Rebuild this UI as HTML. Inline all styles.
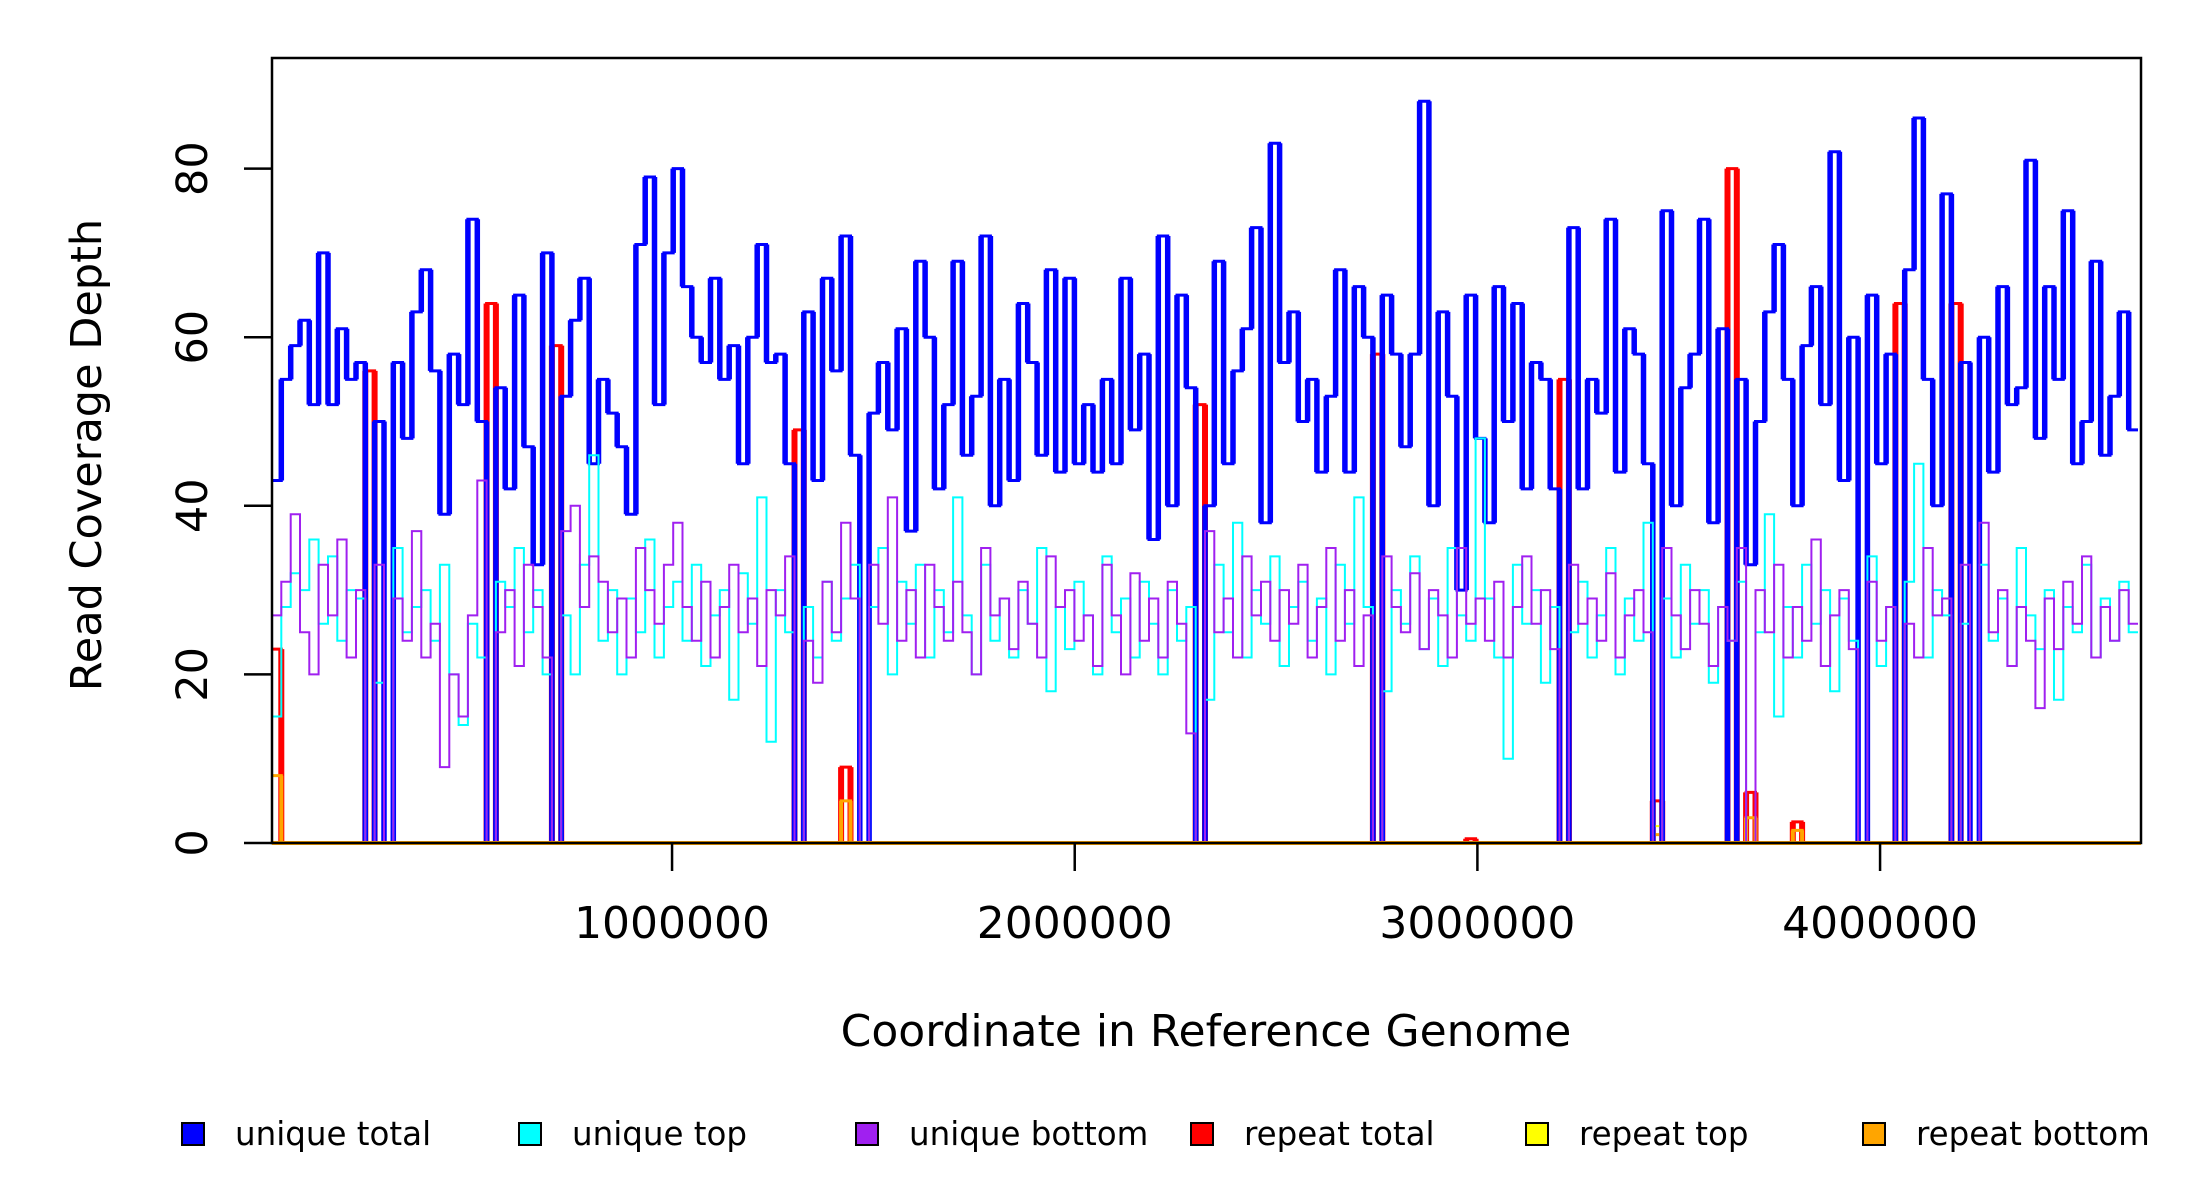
<!DOCTYPE html>
<html><head><meta charset="utf-8"><style>
html,body{margin:0;padding:0;background:#fff;}
svg{display:block;font-family:"DejaVu Sans","Liberation Sans",sans-serif;}
</style></head><body>
<svg id="chart" width="2200" height="1200" viewBox="0 0 2200 1200" xmlns="http://www.w3.org/2000/svg">
<rect x="0" y="0" width="2200" height="1200" fill="#fff"/>
<g id="series"></g>
<rect x="272" y="58" width="1869" height="785" fill="none" stroke="#000" stroke-width="2.5"/>
<g id="axes"></g>
<text transform="translate(101,455) rotate(-90)" text-anchor="middle" font-size="43">Read Coverage Depth</text>
<text x="1206" y="1046" text-anchor="middle" font-size="44">Coordinate in Reference Genome</text>
<g font-size="32.5">
 <g><rect x="182" y="1123" width="22" height="22" fill="#0000ff" stroke="#000" stroke-width="2"/><text x="235" y="1145">unique total</text></g>
 <g><rect x="519" y="1123" width="22" height="22" fill="#00ffff" stroke="#000" stroke-width="2"/><text x="572" y="1145">unique top</text></g>
 <g><rect x="856" y="1123" width="22" height="22" fill="#a020f0" stroke="#000" stroke-width="2"/><text x="909" y="1145">unique bottom</text></g>
 <g><rect x="1191" y="1123" width="22" height="22" fill="#ff0000" stroke="#000" stroke-width="2"/><text x="1244" y="1145">repeat total</text></g>
 <g><rect x="1526" y="1123" width="22" height="22" fill="#ffff00" stroke="#000" stroke-width="2"/><text x="1579" y="1145">repeat top</text></g>
 <g><rect x="1863" y="1123" width="22" height="22" fill="#ffa500" stroke="#000" stroke-width="2"/><text x="1916" y="1145">repeat bottom</text></g>
</g>
</svg>
<script>
const uniqueTotal = [
43,55,59,62,52,70,52,61,55,57, 0,50,0,57,48,63,68,56,39,58,
52,74,50,0,54,42,65,47,33,70, 0,53,62,67,45,55,51,47,39,71,
79,52,70,80,66,60,57,67,55,59, 45,60,71,57,58,45,0,63,43,67,
56,72,46,0,51,57,49,61,37,69, 60,42,52,69,46,53,72,40,55,43,
64,57,46,68,44,67,45,52,44,55, 45,67,49,58,36,72,40,65,54,0,
40,69,45,56,61,73,38,83,57,63, 50,55,44,53,68,44,66,60,0,65,
58,47,58,88,40,63,53,30,65,48, 38,66,50,64,42,57,55,42,0,73,
42,55,51,74,44,61,58,45,0,75, 40,54,58,74,38,61,0,55,33,50,
63,71,55,40,59,66,52,82,43,60, 0,65,45,58,0,68,86,55,40,77,
0,57,0,60,44,66,52,54,81,48, 66,55,75,45,50,69,46,53,63,49];
const uniqueTop = [
15,28,32,30,36,26,34,24,30,29, 0,19,0,35,25,28,30,24,33,20,
14,26,22,0,31,28,35,25,30,20, 0,27,20,33,46,24,30,20,29,25,
36,22,28,31,24,33,21,27,30,17, 32,26,41,12,30,25,0,28,22,31,
24,29,33,0,28,35,20,31,26,33, 22,30,25,41,27,20,33,24,29,22,
30,26,35,18,28,23,31,27,20,34, 25,29,22,31,26,20,30,24,28,0,
17,33,25,38,22,30,26,34,21,28, 31,24,29,20,33,26,41,28,0,18,
30,26,34,23,29,21,35,27,24,48, 29,22,10,33,26,30,19,28,0,25,
31,22,27,35,20,29,24,38,0,29, 22,33,26,30,19,28,24,31,0,25,
39,15,28,22,33,26,30,18,29,24, 0,34,21,28,0,31,45,22,30,27,
0,26,0,33,24,29,21,35,27,23, 30,17,28,25,33,22,29,24,31,25];
const uniqueBottom = [
27,31,39,25,20,33,27,36,22,30, 0,33,0,29,24,37,22,26,9,20,
15,27,43,0,25,30,21,33,28,22, 0,37,40,28,34,31,25,29,22,35,
30,26,33,38,28,24,31,22,28,33, 25,29,21,30,27,34,0,24,19,31,
25,38,29,0,33,26,41,24,30,22, 33,28,24,31,25,20,35,27,29,23,
31,26,22,34,28,30,24,27,21,33, 27,20,32,24,29,22,31,26,13,0,
37,25,29,22,34,27,31,24,30,26, 33,22,28,35,24,30,21,27,0,34,
28,25,32,23,30,27,22,35,26,29, 24,31,22,28,34,26,30,23,0,33,
26,29,24,32,22,27,30,25,0,35, 27,23,30,26,21,28,24,35,0,30,
25,33,22,28,24,36,21,27,30,23, 0,31,24,28,0,26,22,35,27,29,
0,33,0,38,25,30,21,28,24,16, 29,23,31,26,34,22,28,24,30,26];
const repeatBins   = [0, 10, 23, 30, 56, 61, 99, 118, 128, 138, 148, 156, 158, 163, 174, 180];
const repeatTotal  = [23,56, 64, 59, 49, 9,  52, 58,  0.5, 55,  5,   80,  6,   2.5, 64,  64];
const repeatTop    = [0, 0,  0,  0,  0,  0,  0,  0,   0,   0,   2,   0,   0,   0,   0,   0];
const repeatBottom = [8, 0,  0,  0,  0,  5,  0,  0,   0,   0,   1,   0,   3,   1.5, 0,   0];
const yTicks = [0, 20, 40, 60, 80];
const xTicks = [1000000, 2000000, 3000000, 4000000];
const xTickLabels = ["1000000", "2000000", "3000000", "4000000"];

const NS = "http://www.w3.org/2000/svg";
const X0 = 6500, X1 = 4648000, BIN = 23170;
const xs = v => 272 + (v - X0) / (X1 - X0) * 1869;
const ys = v => 843 - v * 8.43;
function expand(idx, vals, n) { const a = new Array(n).fill(0); idx.forEach((b, i) => { a[b] = vals[i]; }); return a; }
function stepPath(arr) {
  let d = "M" + xs(X0).toFixed(1) + "," + ys(arr[0]).toFixed(1);
  for (let i = 0; i < arr.length; i++) {
    d += "H" + xs(X0 + (i + 1) * BIN).toFixed(1);
    if (i + 1 < arr.length) d += "V" + ys(arr[i + 1]).toFixed(1);
  }
  return d;
}
function vertPath(arr) {
  let d = "";
  for (let i = 0; i + 1 < arr.length; i++) {
    const x = xs(X0 + (i + 1) * BIN).toFixed(1);
    d += "M" + x + "," + ys(arr[i]).toFixed(1) + "V" + ys(arr[i + 1]).toFixed(1);
  }
  return d;
}
const layer = document.getElementById("series");
const n = uniqueTotal.length;
const seriesList = [
  ["repeat-total-line", expand(repeatBins, repeatTotal, n), "#ff0000", 3, 6],
  ["repeat-top-line", expand(repeatBins, repeatTop, n), "#ffff00", 2, 3],
  ["repeat-bottom-line", expand(repeatBins, repeatBottom, n), "#ffa500", 3, 4],
  ["unique-total-line", uniqueTotal, "#0000ff", 3, 5.5],
  ["unique-top-line", uniqueTop, "#00ffff", 2, 2],
  ["unique-bottom-line", uniqueBottom, "#a020f0", 2, 2]
];
seriesList.forEach(s => {
  const p = document.createElementNS(NS, "path");
  p.setAttribute("d", stepPath(s[1]));
  p.setAttribute("fill", "none");
  p.setAttribute("stroke", s[2]);
  p.setAttribute("stroke-width", s[3]);
  
  
  layer.appendChild(p);
  if (s[4] > s[3]) {
    const v = document.createElementNS(NS, "path");
    v.setAttribute("d", vertPath(s[1]));
    v.setAttribute("fill", "none");
    v.setAttribute("stroke", s[2]);
    v.setAttribute("stroke-width", s[4]);
    
    
    layer.appendChild(v);
  }
});
const base = document.createElementNS(NS, "line");
base.setAttribute("x1", 272); base.setAttribute("x2", 2141);
base.setAttribute("y1", 843); base.setAttribute("y2", 843);
base.setAttribute("stroke", "#ffa500"); base.setAttribute("stroke-width", 4);


layer.appendChild(base);

const axes = document.getElementById("axes");
yTicks.forEach(t => {
  const y = ys(t);
  const l = document.createElementNS(NS, "line");
  l.setAttribute("x1", 244); l.setAttribute("x2", 272);
  l.setAttribute("y1", y); l.setAttribute("y2", y);
  l.setAttribute("stroke", "#000"); l.setAttribute("stroke-width", 2.5);
  
  
  axes.appendChild(l);
  const tx = document.createElementNS(NS, "text");
  tx.setAttribute("transform", "translate(207," + y + ") rotate(-90)");
  tx.setAttribute("text-anchor", "middle");
  tx.setAttribute("font-size", "43");
  tx.textContent = String(t);
  
  
  axes.appendChild(tx);
});
xTicks.forEach((t, i) => {
  const x = xs(t);
  const l = document.createElementNS(NS, "line");
  l.setAttribute("x1", x); l.setAttribute("x2", x);
  l.setAttribute("y1", 843); l.setAttribute("y2", 871);
  l.setAttribute("stroke", "#000"); l.setAttribute("stroke-width", 2.5);
  
  
  axes.appendChild(l);
  const tx = document.createElementNS(NS, "text");
  tx.setAttribute("x", x); tx.setAttribute("y", 938);
  tx.setAttribute("text-anchor", "middle");
  tx.setAttribute("font-size", "44");
  tx.textContent = xTickLabels[i];
  
  
  axes.appendChild(tx);
});
</script>
</body></html>
